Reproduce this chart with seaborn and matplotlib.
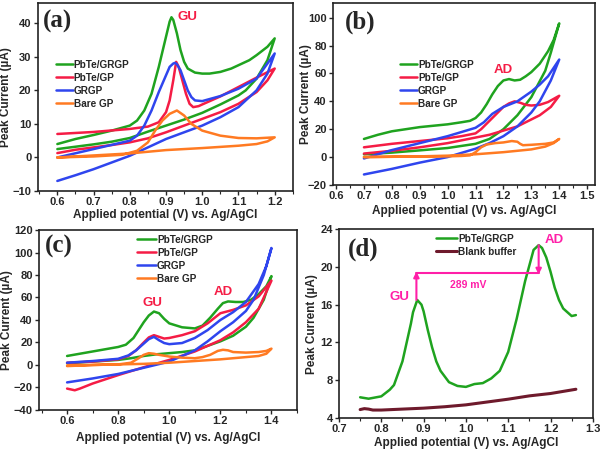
import numpy as np
import pandas as pd
import matplotlib
matplotlib.use('Agg')
import matplotlib.pyplot as plt
from matplotlib.ticker import AutoMinorLocator
import seaborn as sns

sns.set_theme(style='ticks')
plt.rcParams['font.family'] = ['Liberation Sans', 'DejaVu Sans']
plt.rcParams['font.weight'] = 'bold'
plt.rcParams['axes.labelweight'] = 'bold'

GREEN = '#1fa31f'
RED = '#f51c45'
BLUE = '#2f45ee'
ORANGE = '#ff7a22'
PINK = '#ff1fa8'
MAROON = '#6e1a2c'

# ---- panel (a): GU, CV loops (forward then reverse) ----
a_green_x = [0.6, 0.65, 0.7, 0.75, 0.8, 0.82, 0.84, 0.86, 0.88, 0.9, 0.91, 0.915, 0.92, 0.93, 0.94, 0.95,
             0.96, 0.98, 1.0, 1.02, 1.05, 1.08, 1.1, 1.13, 1.15, 1.18, 1.2,
             1.18, 1.15, 1.12, 1.1, 1.05, 1.0, 0.95, 0.9, 0.85, 0.8, 0.75, 0.7, 0.65, 0.6]
a_green_y = [4, 5.5, 6.7, 8, 9.5, 11, 14, 19, 27, 36, 40.5, 41.8, 41, 37, 32, 28.5,
             26.5, 25.3, 25, 25, 25.5, 26.5, 27.5, 29, 30.5, 33, 35.5,
             29, 23.5, 20, 18.5, 15.8, 13.3, 11.3, 9.5, 7.7, 5.8, 4.7, 3.9, 3.2, 2.5]
a_red_x = [0.6, 0.7, 0.8, 0.85, 0.88, 0.9, 0.91, 0.92, 0.928, 0.935, 0.945, 0.955, 0.965, 0.975, 0.99, 1.0,
           1.05, 1.1, 1.15, 1.2,
           1.18, 1.15, 1.1, 1.05, 1.0, 0.95, 0.9, 0.85, 0.8, 0.75, 0.7, 0.65, 0.6]
a_red_y = [7, 7.6, 8.5, 9.2, 10.5, 13.5, 17, 23, 28.5, 27, 23, 19, 16, 15, 15.3, 15.8,
           18.2, 21, 23.8, 26.5,
           23, 19.5, 16, 13.5, 11.5, 9.5, 7.5, 5.7, 4.5, 3.7, 3, 2.3, 1.3]
a_blue_x = [0.6, 0.7, 0.8, 0.82, 0.84, 0.86, 0.88, 0.9, 0.91, 0.92, 0.925, 0.93, 0.94, 0.95, 0.96, 0.97,
            0.98, 1.0, 1.05, 1.1, 1.15, 1.2,
            1.18, 1.15, 1.1, 1.05, 1.0, 0.95, 0.9, 0.85, 0.8, 0.75, 0.7, 0.65, 0.6]
a_blue_y = [0, 2.5, 5, 6.5, 9.5, 14, 19.5, 24.5, 27, 28, 28.2, 27.8, 26, 23, 20, 18,
            17, 16.8, 18.3, 20.5, 23.5, 31,
            25, 20, 15, 12, 9.5, 7.5, 5.5, 3, 0.5, -1.5, -3.5, -5.3, -7]
a_orange_x = [0.6, 0.7, 0.78, 0.82, 0.85, 0.87, 0.89, 0.91, 0.93, 0.95, 0.97, 1.0, 1.05, 1.1, 1.15, 1.2,
              1.18, 1.15, 1.1, 1.0, 0.9, 0.8, 0.7, 0.6]
a_orange_y = [0, 0.3, 0.8, 2, 4.5, 8, 11, 13, 14, 12.5, 10, 8, 6.5, 5.8, 5.7, 6,
              4.8, 4, 3.5, 2.8, 2.2, 1.2, 0.6, 0]

# ---- panel (b): AD ----
b_green_x = [0.7, 0.75, 0.8, 0.85, 0.9, 0.95, 1.0, 1.05, 1.08, 1.1, 1.12, 1.14, 1.16, 1.18, 1.2, 1.22,
             1.24, 1.26, 1.28, 1.3, 1.33, 1.36, 1.38, 1.4,
             1.37, 1.35, 1.3, 1.25, 1.2, 1.15, 1.1, 1.0, 0.9, 0.8, 0.7]
b_green_y = [13, 16, 18.5, 20, 21.5, 22.5, 23.5, 25, 26, 28, 32, 38, 45, 51, 55, 56,
             55, 55.5, 58, 61, 67, 76, 84, 96,
             75, 62, 43, 30, 20, 13, 9.5, 6.5, 4.8, 3.2, 2]
b_red_x = [0.7, 0.8, 0.9, 1.0, 1.05, 1.1, 1.12, 1.15, 1.18, 1.2, 1.22, 1.24, 1.26, 1.28, 1.3, 1.33,
           1.36, 1.4,
           1.37, 1.33, 1.3, 1.25, 1.2, 1.15, 1.1, 1.0, 0.9, 0.8, 0.7]
b_red_y = [7, 9.5, 11.5, 13.5, 15, 17, 20, 26, 32, 36, 38.5, 40, 39, 37.5, 37, 37.5,
           39.5, 44,
           36, 30, 27, 22, 19, 16, 14, 10, 7, 4.5, 2.5]
b_blue_x = [0.7, 0.75, 0.8, 0.9, 1.0, 1.05, 1.1, 1.13, 1.16, 1.2, 1.25, 1.3, 1.33, 1.36, 1.4,
            1.37, 1.33, 1.3, 1.25, 1.2, 1.15, 1.1, 1.05, 1.0, 0.9, 0.8, 0.7]
b_blue_y = [-1, 2, 5, 10, 15, 18, 21, 25, 31, 36, 40, 47, 52, 58, 70,
            55, 40, 32, 22, 15, 10, 6, 3, 0, -4, -8.5, -12.5]
b_orange_x = [0.7, 0.8, 0.9, 1.0, 1.05, 1.08, 1.1, 1.12, 1.14, 1.17, 1.2, 1.23, 1.25, 1.26, 1.27, 1.3,
              1.35, 1.38, 1.4,
              1.38, 1.35, 1.3, 1.2, 1.1, 1.0, 0.9, 0.8, 0.7]
b_orange_y = [0, 0.2, 0.3, 0.5, 0.8, 1.2, 3.5, 7, 9, 10, 10.5, 11.5, 11, 9.5, 8.5, 8.8,
              9.5, 10.5, 13,
              10, 7.5, 5.5, 3.5, 2, 1, 0.5, 0.2, 0]

# ---- panel (c): GU + AD ----
c_green_x = [0.6, 0.7, 0.8, 0.83, 0.86, 0.88, 0.9, 0.92, 0.94, 0.96, 0.98, 1.0, 1.05, 1.1, 1.13, 1.16,
             1.19, 1.21, 1.23, 1.26, 1.29, 1.32, 1.35, 1.38, 1.4,
             1.37, 1.33, 1.3, 1.25, 1.2, 1.15, 1.1, 1.05, 1.0, 0.95, 0.9, 0.85, 0.8, 0.7, 0.6]
c_green_y = [8, 12, 16, 18, 24, 31, 38, 44, 47.5, 46, 41, 37, 33.5, 32.5, 35, 42,
             50, 55, 56.5, 56, 56, 58, 63, 70, 79,
             58, 42, 34, 26, 21, 17, 13, 11.5, 10.5, 9.5, 8, 6, 4.5, 3, 1.5]
c_red_x = [0.6, 0.7, 0.8, 0.84, 0.87, 0.9, 0.92, 0.94, 0.96, 0.98, 1.0, 1.05, 1.1, 1.15, 1.2, 1.25,
           1.3, 1.35, 1.4,
           1.35, 1.3, 1.25, 1.2, 1.15, 1.1, 1.0, 0.9, 0.8, 0.7, 0.65, 0.63, 0.6]
c_red_y = [2, 3, 5, 8, 13, 20, 24.5, 26.5, 25, 23.5, 24, 26.5, 30, 37, 46, 49,
           53, 61, 75,
           50, 38, 29, 22, 17, 12, 4.5, -2, -9, -16.5, -21, -22.5, -21]
c_blue_x = [0.6, 0.7, 0.8, 0.84, 0.87, 0.9, 0.92, 0.94, 0.96, 0.98, 1.0, 1.05, 1.1, 1.15, 1.2, 1.25,
            1.3, 1.35, 1.38, 1.4,
            1.37, 1.33, 1.3, 1.25, 1.2, 1.15, 1.1, 1.0, 0.9, 0.8, 0.7, 0.6]
c_blue_y = [2, 3.5, 5.5, 8.5, 13, 19, 23, 25, 22, 19.5, 18.5, 19.5, 24, 31, 40, 47,
            56, 72, 88, 104,
            80, 58, 48, 38, 30, 21, 13, 3, -2.5, -8, -12, -15.5]
c_orange_x = [0.6, 0.7, 0.8, 0.85, 0.88, 0.9, 0.92, 0.94, 0.96, 1.0, 1.05, 1.1, 1.13, 1.16, 1.19, 1.21,
              1.23, 1.25, 1.3, 1.35, 1.38, 1.4,
              1.38, 1.35, 1.3, 1.2, 1.1, 1.0, 0.9, 0.8, 0.7, 0.6]
c_orange_y = [-0.5, 0, 0.5, 2, 6, 9, 10.5, 10, 9, 7.5, 6.5, 6, 7, 9, 12.5, 13.5,
              13, 11.5, 11, 11.5, 12.5, 14.5,
              10, 8, 7, 5, 3.5, 2, 1, 0.5, 0, -1]

# ---- panel (d): DPV ----
d_green_x = [0.75, 0.77, 0.8, 0.82, 0.83, 0.85, 0.87, 0.875, 0.885, 0.895, 0.9, 0.91, 0.92, 0.93, 0.94, 0.96,
             0.98, 1.0, 1.02, 1.04, 1.06, 1.08, 1.1, 1.12, 1.14, 1.16, 1.172, 1.18, 1.19, 1.2,
             1.21, 1.22, 1.23, 1.25, 1.26]
d_green_y = [6.2, 6.05, 6.3, 7.0, 7.5, 10, 14, 15.2, 16.5, 16.0, 15.3, 13.3, 11.5, 10.0, 9.0, 7.8,
             7.4, 7.3, 7.6, 7.7, 8.2, 9.0, 11, 14.5, 18.5, 21.8, 22.3, 22.0, 21.0, 19.5,
             17.8, 16.5, 15.6, 14.8, 14.9]
d_blank_x = [0.75, 0.76, 0.77, 0.78, 0.8, 0.85, 0.9, 0.95, 1.0, 1.05, 1.1, 1.15, 1.2, 1.26]
d_blank_y = [4.9, 5.0, 4.95, 4.85, 4.85, 4.95, 5.05, 5.2, 5.4, 5.7, 6.0, 6.35, 6.6, 7.05]

labels4 = ['PbTe/GRGP', 'PbTe/GP', 'GRGP', 'Bare GP']
colors4 = [GREEN, RED, BLUE, ORANGE]


def draw(ax, xs, ys, color, label, lw=1.8):
    df = pd.DataFrame({'x': xs, 'y': ys})
    sns.lineplot(data=df, x='x', y='y', sort=False, estimator=None, color=color,
                 lw=lw, label=label, ax=ax)


def style(ax, xlim, ylim, xticks, yticks, tag, tagpos, ylab_x, xlab_y):
    ax.set_xlim(*xlim)
    ax.set_ylim(*ylim)
    ax.set_xticks(xticks)
    ax.set_yticks(yticks)
    ax.set_xticklabels(['%.1f' % t for t in xticks])
    ax.xaxis.set_minor_locator(AutoMinorLocator(2))
    ax.tick_params(direction='out', length=3, width=1, labelsize=8, pad=1.5)
    ax.tick_params(axis='x', which='minor', direction='out', length=2, width=0.8, bottom=True)
    for lab in ax.get_xticklabels() + ax.get_yticklabels():
        lab.set_fontweight('bold')
    for s in ax.spines.values():
        s.set_linewidth(1.2)
        s.set_color('#222222')
    ax.set_xlabel('Applied potential (V) vs. Ag/AgCl', fontsize=8.5)
    ax.set_ylabel('Peak Current (\u00b5A)', fontsize=8.5)
    ax.yaxis.set_label_coords(ylab_x, 0.5)
    ax.xaxis.set_label_coords(0.5, xlab_y)
    ax.text(tagpos[0], tagpos[1], tag, transform=ax.transAxes, ha='left', va='center',
            fontsize=18, fontweight='bold', family=['Liberation Serif', 'DejaVu Serif'])


def legend(ax, anchor, hl=1.7):
    ax.legend(loc='upper left', bbox_to_anchor=anchor, frameon=False,
              handlelength=hl, handletextpad=0.1, labelspacing=0.3, borderpad=0,
              borderaxespad=0, prop={'weight': 'bold', 'size': 7.2})


fig = plt.figure(figsize=(6, 4.51), dpi=100)
ax_a = fig.add_axes([0.063, 0.5765, 0.425, 0.4165])
ax_b = fig.add_axes([0.555, 0.590, 0.437, 0.403])
ax_c = fig.add_axes([0.065, 0.091, 0.43, 0.399])
ax_d = fig.add_axes([0.565, 0.073, 0.423, 0.419])

for xs, ys, c, l in zip([a_green_x, a_red_x, a_blue_x, a_orange_x],
                        [a_green_y, a_red_y, a_blue_y, a_orange_y], colors4, labels4):
    draw(ax_a, xs, ys, c, l)
style(ax_a, (0.546, 1.25), (-10, 46), [0.6, 0.7, 0.8, 0.9, 1.0, 1.1, 1.2],
      [-10, 0, 10, 20, 30, 40], '(a)', (0.018, 0.905), -0.102, -0.095)
legend(ax_a, (0.07, 0.70))
ax_a.text(0.959, 42, 'GU', color=RED, fontsize=9.5, fontweight='bold', ha='center', va='center')

for xs, ys, c, l in zip([b_green_x, b_red_x, b_blue_x, b_orange_x],
                        [b_green_y, b_red_y, b_blue_y, b_orange_y], colors4, labels4):
    draw(ax_b, xs, ys, c, l)
style(ax_b, (0.589, 1.529), (-20, 110.5), [0.6, 0.7, 0.8, 0.9, 1.0, 1.1, 1.2, 1.3, 1.4, 1.5],
      [-20, 0, 20, 40, 60, 80, 100], '(b)', (0.045, 0.893), -0.08, -0.11)
legend(ax_b, (0.256, 0.69))
ax_b.text(1.199, 62.3, 'AD', color=RED, fontsize=9.5, fontweight='bold', ha='center', va='center')

for xs, ys, c, l in zip([c_green_x, c_red_x, c_blue_x, c_orange_x],
                        [c_green_y, c_red_y, c_blue_y, c_orange_y], colors4, labels4):
    draw(ax_c, xs, ys, c, l)
style(ax_c, (0.49, 1.5), (-40, 120), [0.6, 0.8, 1.0, 1.2, 1.4],
      [-40, -20, 0, 20, 40, 60, 80, 100, 120], '(c)', (0.023, 0.91), -0.10, -0.122)
legend(ax_c, (0.38, 0.975), hl=1.9)
ax_c.text(0.935, 54.8, 'GU', color=RED, fontsize=9.5, fontweight='bold', ha='center', va='center')
ax_c.text(1.21, 65.2, 'AD', color=RED, fontsize=9.5, fontweight='bold', ha='center', va='center')

draw(ax_d, d_green_x, d_green_y, GREEN, 'PbTe/GRGP')
draw(ax_d, d_blank_x, d_blank_y, MAROON, 'Blank buffer', lw=2.2)
style(ax_d, (0.7, 1.3), (4, 24), [0.7, 0.8, 0.9, 1.0, 1.1, 1.2, 1.3],
      [4, 8, 12, 16, 20, 24], '(d)', (0.035, 0.894), -0.083, -0.10)
legend(ax_d, (0.382, 0.975), hl=2.1)
ax_d.annotate('', xy=(0.883, 19.5), xytext=(0.883, 16.5),
              arrowprops=dict(arrowstyle='-|>', color=PINK, lw=1.5, mutation_scale=8, shrinkA=0, shrinkB=0))
ax_d.plot([0.883, 1.172], [19.35, 19.35], color=PINK, lw=1.5)
ax_d.annotate('', xy=(1.172, 19.2), xytext=(1.172, 22.3),
              arrowprops=dict(arrowstyle='-|>', color=PINK, lw=1.5, mutation_scale=8, shrinkA=0, shrinkB=0))
ax_d.text(1.005, 18.1, '289 mV', color=PINK, fontsize=7.5, fontweight='bold', ha='center', va='center')
ax_d.text(0.842, 16.8, 'GU', color=PINK, fontsize=9.5, fontweight='bold', ha='center', va='center')
ax_d.text(1.208, 22.8, 'AD', color=PINK, fontsize=9.5, fontweight='bold', ha='center', va='center')

fig.savefig('out.png', dpi=100)
